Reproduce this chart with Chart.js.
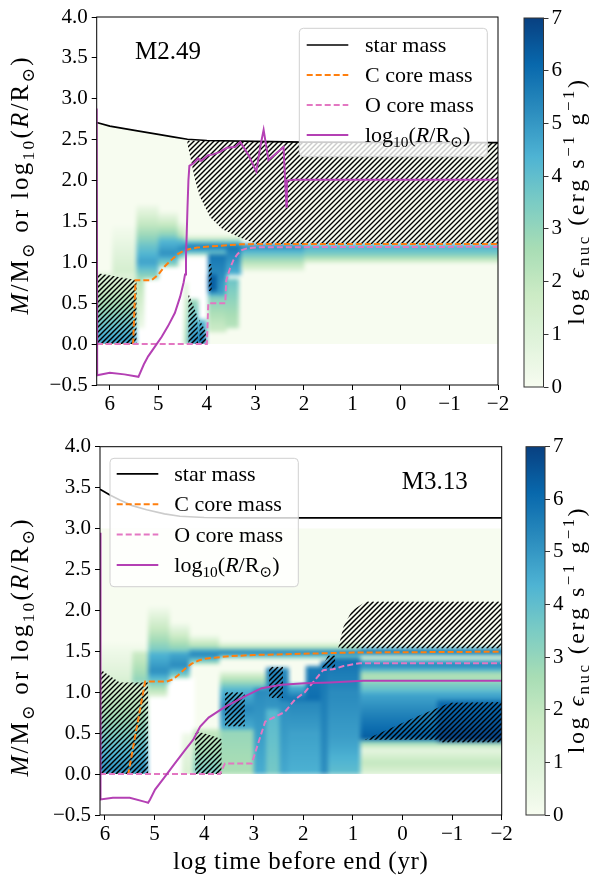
<!DOCTYPE html>
<html>
<head>
<meta charset="utf-8">
<script src="https://cdn.jsdelivr.net/npm/chart.js@4.4.1/dist/chart.umd.min.js"></script>
<style>
  body { margin: 0; background: #fff; width: 596px; height: 875px; position: relative; overflow: hidden; }
  canvas { position: absolute; }
</style>
</head>
<body>
<canvas id="mainA" width="520" height="420" style="left:0;top:0"></canvas>
<canvas id="barA" width="91" height="420" style="left:505px;top:0"></canvas>
<canvas id="mainB" width="520" height="445" style="left:0;top:430px"></canvas>
<canvas id="barB" width="91" height="445" style="left:505px;top:430px"></canvas>
<script>
// ---- ticks ----
const X_TICKS = [6, 5, 4, 3, 2, 1, 0, -1, -2];
const Y_TICKS = [-0.5, 0, 0.5, 1, 1.5, 2, 2.5, 3, 3.5, 4];
const CBAR_TICKS = [0, 1, 2, 3, 4, 5, 6, 7];

// ---- model M2.49 (top) : [log t, value] ----
const STAR_A = [[6.27, 2.71], [6.0, 2.665], [5.7, 2.635], [5.4, 2.605], [5.0, 2.565], [4.7, 2.535], [4.4, 2.505],
  [4.0, 2.49], [3.0, 2.478], [2.0, 2.47], [-2, 2.465]];
const C_CORE_A = [[6.27, 0], [5.52, 0], [5.47, 0.78], [5.14, 0.78], [5.0, 0.85], [4.87, 0.95], [4.73, 1.03],
  [4.6, 1.1], [4.45, 1.15], [4.2, 1.18], [3.8, 1.2], [3.3, 1.22], [3.0, 1.225], [-2, 1.225]];
const O_CORE_A = [[6.27, 0], [4.0, 0], [3.97, 0.5], [3.62, 0.5], [3.6, 0.78], [3.52, 0.93], [3.45, 1.03],
  [3.37, 1.1], [3.28, 1.15], [3.15, 1.175], [2.9, 1.185], [-2, 1.19]];
const LOGR_A = [[6.27, 2.88], [6.26, -0.38], [6.0, -0.35], [5.7, -0.37], [5.41, -0.40], [5.3, -0.25], [5.21, -0.15],
  [5.07, -0.03], [4.93, 0.09], [4.8, 0.22], [4.66, 0.38], [4.55, 0.58], [4.48, 0.75], [4.45, 0.85], [4.43, 1.1],
  [4.42, 1.25], [4.4, 1.65], [4.38, 2.0], [4.36, 2.18], [4.28, 2.21], [4.18, 2.27], [4.12, 2.24], [3.97, 2.31],
  [3.87, 2.32], [3.73, 2.35], [3.59, 2.40], [3.42, 2.41], [3.31, 2.47], [3.14, 2.31], [2.98, 2.11], [2.90, 2.41],
  [2.83, 2.62], [2.73, 2.25], [2.42, 2.41], [2.36, 1.68], [2.35, 2.0], [2.2, 2.01], [-2, 2.01]];
// eps_nuc cells: [t from, t to, m bottom, m top, log eps at bottom, log eps at top]  (null = no burning data)
const EPS_A = [
  [6.27, 5.45, 0.00, 0.45, 5.0, 2.8], [6.27, 5.45, 0.45, 0.87, 2.8, 0.8], [5.95, 5.45, 0.87, 1.45, 1.4, 0.1],
  [5.45, 4.47, 0.00, 0.78, null], [5.14, 4.47, 0.78, 0.95, null], [5.45, 5.30, 0.20, 0.80, 0.4, 2.4],
  [5.45, 5.00, 0.80, 1.00, 2.8, 4.8], [5.45, 5.00, 1.00, 1.20, 4.8, 3.8], [5.45, 5.00, 1.20, 1.70, 3.8, 0.3],
  [5.00, 4.60, 0.95, 1.10, 2.8, 5.2], [5.00, 4.60, 1.10, 1.30, 5.2, 4.0], [5.00, 4.60, 1.30, 1.62, 3.6, 0.2],
  [4.60, 4.45, 1.05, 1.15, 2.8, 5.4], [4.60, 4.45, 1.15, 1.30, 5.4, 3.6], [4.60, 4.45, 1.30, 1.50, 2.6, 0.1],
  [4.45, 3.30, 1.10, 1.19, 3.2, 5.8], [4.45, 3.30, 1.19, 1.27, 5.8, 3.2], [4.45, 3.30, 1.27, 1.34, 2.0, 0.1],
  [4.47, 3.98, 0.00, 1.05, null], [4.47, 4.40, 0.00, 0.75, 2.6, 0.8], [4.38, 4.18, 0.00, 0.55, 5.4, 2.8],
  [4.18, 4.02, 0.00, 0.30, 6.0, 4.0],
  [3.98, 3.60, 0.15, 0.60, 1.6, 3.4], [3.98, 3.60, 0.60, 1.10, 4.8, 5.8], [3.98, 3.80, 0.65, 0.85, 6.3, 6.3],
  [3.62, 3.35, 0.20, 0.80, 2.2, 3.8], [3.60, 3.30, 0.85, 1.20, 4.4, 5.8],
  [3.30, 2.00, 0.90, 1.10, 0.8, 3.8], [3.30, 2.00, 1.10, 1.225, 3.8, 5.6],
  [2.00, -2.0, 1.00, 1.10, 1.2, 3.5], [2.00, -2.0, 1.10, 1.225, 3.5, 4.6]
];
// convective zones (hatched)
const CONV_A = [
  [[6.27, 0], [5.45, 0], [5.45, 0.78], [6.27, 0.87]],
  [[4.4, 2.49], [3.0, 2.478], [2.0, 2.47], [-2, 2.465], [-2, 1.225], [2.96, 1.225], [3.31, 1.3], [3.67, 1.4],
    [3.93, 1.55], [4.14, 1.8], [4.24, 2.0], [4.4, 2.45]],
  [[4.38, 0], [4.18, 0], [4.2, 0.35], [4.38, 0.62]],
  [[4.15, 0], [4.02, 0], [4.02, 0.15], [4.15, 0.3]],
  [[3.96, 0.65], [3.9, 0.65], [3.9, 0.98], [3.96, 0.98]]
];

// ---- model M3.13 (bottom) ----
const STAR_B = [[6.1, 3.48], [5.9, 3.41], [5.7, 3.35], [5.45, 3.28], [5.16, 3.23], [4.8, 3.18], [4.49, 3.15],
  [4.0, 3.135], [3.48, 3.13], [-2, 3.13]];
const C_CORE_B = [[6.1, 0], [5.53, 0], [5.19, 1.13], [4.76, 1.13], [4.62, 1.16], [4.52, 1.21], [4.38, 1.29],
  [4.25, 1.35], [4.1, 1.39], [3.98, 1.41], [3.5, 1.44], [3.0, 1.455], [2.0, 1.47], [1.0, 1.485], [-2, 1.495]];
const O_CORE_B = [[6.1, 0], [3.68, 0], [3.58, 0.13], [3.04, 0.13], [2.77, 0.64], [2.37, 0.76], [2.17, 0.91],
  [1.97, 1.0], [1.6, 1.27], [1.4, 1.28], [1.19, 1.32], [0.86, 1.355], [-2, 1.355]];
const LOGR_B = [[6.1, 2.95], [6.09, -0.31], [5.84, -0.29], [5.5, -0.29], [5.19, -0.34], [5.13, -0.35], [5.09, -0.31],
  [4.99, -0.19], [4.79, -0.03], [4.59, 0.13], [4.39, 0.29], [4.22, 0.42], [4.08, 0.58], [3.91, 0.69], [3.58, 0.82],
  [3.18, 0.95], [2.84, 1.05], [2.44, 1.09], [1.97, 1.11], [1.46, 1.12], [0.79, 1.14], [-2, 1.14]];
const EPS_B = [
  [6.10, 5.13, 0.00, 0.50, 5.3, 3.4], [6.10, 5.13, 0.50, 1.20, 3.4, 1.0], [6.10, 5.13, 1.20, 1.60, 1.0, 0.1],
  [5.45, 5.13, 1.12, 1.50, 3.2, 1.6],
  [5.13, 4.75, 0.00, 0.95, null], [4.75, 4.20, 0.50, 1.18, null], [4.75, 4.45, 0.00, 0.50, null],
  [4.45, 4.20, 0.00, 0.50, 1.2, 0.3], [5.13, 4.75, 0.95, 1.12, 1.0, 3.5],
  [5.13, 4.70, 1.12, 1.25, 3.6, 5.2], [5.13, 4.70, 1.25, 1.50, 5.2, 4.2], [5.13, 4.70, 1.50, 2.05, 3.6, 0.1],
  [4.70, 4.30, 1.18, 1.32, 3.0, 5.3], [4.70, 4.30, 1.32, 1.50, 5.3, 4.5], [4.70, 4.30, 1.50, 1.85, 3.5, 0.1],
  [4.30, 3.70, 1.35, 1.45, 2.5, 5.5], [4.30, 3.70, 1.45, 1.53, 5.5, 4.5], [4.30, 3.70, 1.53, 1.70, 3.0, 0.1],
  [3.70, 0.85, 1.42, 1.49, 3.0, 5.8], [3.70, 0.85, 1.49, 1.53, 5.8, 4.0], [3.70, 0.85, 1.53, 1.62, 2.5, 0.1],
  [0.85, -2.0, 1.45, 1.50, 4.5, 6.0], [0.85, -2.0, 1.50, 1.55, 6.0, 3.5],
  [4.22, 3.68, 0.00, 0.55, 3.6, 1.8], [3.68, 3.00, 0.00, 0.55, 2.5, 3.0], [3.68, 3.00, 0.55, 0.80, 4.5, 5.3],
  [3.68, 3.00, 0.80, 1.05, 5.3, 4.2], [3.68, 2.75, 1.05, 1.25, 4.0, 0.8], [3.00, 2.75, 0.00, 1.05, 4.5, 5.3],
  [2.75, 2.48, 0.00, 0.80, 3.6, 4.2], [2.75, 2.48, 0.80, 1.30, 5.0, 5.6], [2.48, 2.30, 0.00, 0.90, 4.6, 5.2],
  [2.48, 2.30, 0.90, 1.30, 5.8, 5.2],
  [2.30, 1.65, 0.00, 0.50, 4.4, 4.8], [2.30, 1.65, 0.50, 0.90, 4.8, 5.4], [2.30, 1.95, 0.90, 1.10, 6.0, 4.0],
  [1.95, 1.65, 0.90, 1.32, 6.0, 5.6], [1.65, 1.50, 0.00, 1.38, 5.2, 5.8],
  [1.50, 0.85, 0.00, 0.40, 4.0, 4.8], [1.50, 0.85, 0.40, 1.00, 4.8, 5.3], [1.50, 0.85, 1.00, 1.42, 5.3, 5.9],
  [0.85, -2.0, 0.00, 0.14, 1.0, 2.0], [0.85, -2.0, 0.14, 0.30, 2.0, 0.6], [0.85, -2.0, 0.30, 0.42, 0.6, 4.0],
  [0.85, -2.0, 0.42, 0.70, 6.4, 5.6], [0.85, -2.0, 0.70, 1.00, 5.6, 4.6], [0.85, -2.0, 1.00, 1.15, 4.2, 3.0],
  [0.85, -2.0, 1.15, 1.25, 2.4, 2.6], [0.85, -2.0, 1.25, 1.32, 3.6, 5.4], [0.85, -2.0, 1.32, 1.40, 5.4, 4.6],
  [0.85, -2.0, 1.40, 1.45, 1.0, 1.5], [-0.70, -2.0, 0.40, 0.90, 7.0, 6.0]
];
const CONV_B = [
  [[6.1, 0], [5.13, 0], [5.13, 1.12], [5.7, 1.12], [6.1, 1.28]],
  [[4.18, 0], [3.65, 0], [3.65, 0.43], [4.0, 0.5], [4.18, 0.52]],
  [[3.58, 0.58], [3.18, 0.58], [3.18, 1.0], [3.58, 1.0]],
  [[2.69, 0.93], [2.41, 0.93], [2.41, 1.31], [2.69, 1.31]],
  [[1.63, 1.30], [1.36, 1.30], [1.36, 1.45], [1.5, 1.45]],
  [[1.30, 1.535], [-2, 1.535], [-2, 2.11], [0.73, 2.11], [1.02, 2.0], [1.19, 1.8]],
  [[0.76, 0.42], [-0.75, 0.42], [-0.75, 0.385], [-2, 0.385], [-2, 0.88], [-0.96, 0.87], [-0.28, 0.70]]
];

// ---- text ----
const SERIF = '"Liberation Serif", "DejaVu Serif", serif';
const Y_TITLE = [{ t: 'M', it: 1 }, { t: '/M' }, { t: '\u2299', sub: 1 }, { t: ' or log' }, { t: '10', sub: 1 },
  { t: '(' }, { t: 'R', it: 1 }, { t: '/R' }, { t: '\u2299', sub: 1 }, { t: ')' }];
const CBAR_TITLE = [{ t: 'log ' }, { t: '\u03f5', it: 1 }, { t: 'nuc', sub: 1 }, { t: ' (erg s' }, { t: '\u22121', sup: 1 },
  { t: ' g' }, { t: '\u22121', sup: 1 }, { t: ')' }];
const LEGEND_TEXT = [[{ t: 'star mass' }], [{ t: 'C core mass' }], [{ t: 'O core mass' }],
  [{ t: 'log' }, { t: '10', sub: 1 }, { t: '(' }, { t: 'R', it: 1 }, { t: '/R' }, { t: '\u2299', sub: 1 }, { t: ')' }]];

const GNBU = ['#f7fcf0', '#e0f3db', '#ccebc5', '#a8ddb5', '#7bccc4', '#4eb3d3', '#2b8cbe', '#0868ac', '#084081'];
const LINE_STYLE = [
  { color: '#000000', width: 1.7, dash: [] },
  { color: '#ff7f0e', width: 2, dash: [6, 3] },
  { color: '#e377c2', width: 2, dash: [6, 3] },
  { color: '#b440b4', width: 2, dash: [] }
];

function hex(h) { return [1, 3, 5].map(i => parseInt(h.substr(i, 2), 16)); }
function cmap(v) {
  const t = Math.max(0, Math.min(1, v / 7)) * (GNBU.length - 1);
  const i = Math.min(Math.floor(t), GNBU.length - 2), f = t - i;
  const a = hex(GNBU[i]), b = hex(GNBU[i + 1]);
  return 'rgb(' + a.map((c, k) => Math.round(c + (b[k] - c) * f)).join(',') + ')';
}
const fmtX = v => String(v).replace('-', '\u2212');
const fmtY = v => v.toFixed(1).replace('-', '\u2212');

function richLayout(ctx, segs, size, gap) {
  let w = 0; const out = [];
  segs.forEach(s => {
    const sz = (s.sub || s.sup) ? size * 0.7 : size;
    const font = (s.it ? 'italic ' : '') + sz + 'px ' + SERIF;
    const dy = s.sub ? size * 0.22 : s.sup ? -size * 0.4 : 0;
    ctx.font = font;
    for (const ch of s.t) { out.push({ ch, font, x: w, dy }); w += ctx.measureText(ch).width + gap; }
  });
  return { out, w: w - gap };
}
function drawRich(ctx, segs, x, y, size, gap, align) {
  const r = richLayout(ctx, segs, size, gap);
  const x0 = align === 'center' ? x - r.w / 2 : x;
  ctx.textAlign = 'left'; ctx.textBaseline = 'alphabetic'; ctx.fillStyle = '#000';
  r.out.forEach(g => { ctx.font = g.font; ctx.fillText(g.ch, x0 + g.x, y + g.dy); });
}

function clipArea(chart, ctx) {
  const a = chart.chartArea;
  ctx.beginPath(); ctx.rect(a.left, a.top, a.right - a.left, a.bottom - a.top); ctx.clip();
}
function pathPoly(chart, ctx, pts) {
  const { x, y } = chart.scales;
  ctx.beginPath();
  pts.forEach(([vx, vy], i) => {
    const px = x.getPixelForValue(vx), py = y.getPixelForValue(vy);
    i ? ctx.lineTo(px, py) : ctx.moveTo(px, py);
  });
  ctx.closePath();
}
// separable box blur, a couple of passes ~ gaussian smoothing of the pcolormesh look
function boxBlur(img, w, h, r, passes) {
  const d = img.data, tmp = new Float32Array(d.length);
  for (let p = 0; p < passes; p++) {
    for (let yy = 0; yy < h; yy++) for (let xx = 0; xx < w; xx++) for (let c = 0; c < 4; c++) {
      let s = 0, n = 0;
      for (let k = -r; k <= r; k++) { const q = xx + k; if (q >= 0 && q < w) { s += d[(yy * w + q) * 4 + c]; n++; } }
      tmp[(yy * w + xx) * 4 + c] = s / n;
    }
    for (let yy = 0; yy < h; yy++) for (let xx = 0; xx < w; xx++) for (let c = 0; c < 4; c++) {
      let s = 0, n = 0;
      for (let k = -r; k <= r; k++) { const q = yy + k; if (q >= 0 && q < h) { s += tmp[(q * w + xx) * 4 + c]; n++; } }
      d[(yy * w + xx) * 4 + c] = s / n;
    }
  }
}
// energy generation map: cells painted off-screen, then softened and clipped to the model's mass range
function drawEps(chart, domainTop, cells) {
  const { ctx, chartArea: a, scales: { x, y } } = chart;
  const off = document.createElement('canvas');
  off.width = chart.width; off.height = chart.height;
  const o = off.getContext('2d');
  const domain = [[domainTop[0][0], 0], ...domainTop, [domainTop[domainTop.length - 1][0], 0]];
  o.fillStyle = cmap(0);
  o.fillRect(0, 0, off.width, off.height);
  cells.forEach(([xa, xb, y0, y1, vb, vt]) => {
    const px0 = x.getPixelForValue(xa), px1 = x.getPixelForValue(xb);
    const py0 = y.getPixelForValue(y0), py1 = y.getPixelForValue(y1);
    if (vb === null) o.fillStyle = '#fff';
    else {
      const g = o.createLinearGradient(0, py0, 0, py1);
      for (let k = 0; k <= 4; k++) g.addColorStop(k / 4, cmap(vb + (vt - vb) * k / 4));
      o.fillStyle = g;
    }
    o.fillRect(Math.min(px0, px1), Math.min(py0, py1), Math.abs(px1 - px0) + 0.5, Math.abs(py1 - py0) + 0.5);
  });
  const L = Math.floor(a.left), T = Math.floor(a.top), W = Math.ceil(a.right - L), H = Math.ceil(a.bottom - T);
  const img = o.getImageData(L, T, W, H);
  boxBlur(img, W, H, 2, 2);
  o.putImageData(img, L, T);
  ctx.save();
  clipArea(chart, ctx);
  pathPoly(chart, ctx, domain); ctx.clip();
  ctx.drawImage(off, 0, 0);
  ctx.restore();
}
function drawHatch(chart, polys) {
  const ctx = chart.ctx, step = 5;
  ctx.save(); clipArea(chart, ctx);
  polys.forEach(p => {
    ctx.save();
    pathPoly(chart, ctx, p); ctx.clip();
    const xs = p.map(q => chart.scales.x.getPixelForValue(q[0])), ys = p.map(q => chart.scales.y.getPixelForValue(q[1]));
    const x0 = Math.min(...xs), x1 = Math.max(...xs), y0 = Math.min(...ys), y1 = Math.max(...ys);
    ctx.beginPath();
    for (let c = Math.floor((x0 + y0) / step) * step; c <= x1 + y1; c += step) {
      ctx.moveTo(c - y1, y1); ctx.lineTo(c - y0, y0);
    }
    ctx.strokeStyle = '#000'; ctx.lineWidth = 1.4; ctx.stroke();
    ctx.restore();
  });
  ctx.restore();
}
function drawLegend(chart, L) {
  const ctx = chart.ctx, a = chart.chartArea;
  const bx = a.left + L.dx, by = a.top + L.dy;
  ctx.save();
  ctx.beginPath(); ctx.roundRect(bx, by, L.w, L.h, 4);
  ctx.fillStyle = 'rgba(255,255,255,0.8)'; ctx.fill();
  ctx.strokeStyle = '#d0d0d0'; ctx.lineWidth = 1; ctx.stroke();
  LEGEND_TEXT.forEach((segs, i) => {
    const ry = by + L.row0 + i * L.rowGap, s = LINE_STYLE[i];
    ctx.beginPath(); ctx.moveTo(bx + L.s0, ry); ctx.lineTo(bx + L.s1, ry);
    ctx.strokeStyle = s.color; ctx.lineWidth = s.width; ctx.setLineDash(s.dash); ctx.stroke(); ctx.setLineDash([]);
    drawRich(ctx, segs, bx + L.tx, ry + 7, 22, 0, 'left');
  });
  ctx.restore();
}

function panel(id, o) {
  const kipp = {
    id: 'kipp',
    beforeDatasetsDraw(chart) {
      drawEps(chart, o.domain, o.cells);
      drawHatch(chart, o.conv);
    },
    afterDatasetsDraw(chart) {
      const ctx = chart.ctx, a = chart.chartArea;
      drawLegend(chart, o.legend);
      ctx.save();
      ctx.font = '25px ' + SERIF; ctx.fillStyle = '#000'; ctx.textAlign = 'left'; ctx.textBaseline = 'alphabetic';
      ctx.fillText(o.label, a.left + o.labelPos[0], a.top + o.labelPos[1]);
      ctx.strokeStyle = '#000'; ctx.lineWidth = 1;
      ctx.strokeRect(a.left, a.top, a.right - a.left, a.bottom - a.top);
      ctx.translate(28, o.yTitleY); ctx.rotate(-Math.PI / 2);
      drawRich(ctx, Y_TITLE, 0, 0, 25, 2.2, 'center');
      ctx.restore();
      if (o.xTitle) {
        ctx.save();
        ctx.font = '25px ' + SERIF; ctx.fillStyle = '#000'; ctx.textAlign = 'center'; ctx.textBaseline = 'alphabetic';
        if ('letterSpacing' in ctx) ctx.letterSpacing = '0.7px';
        ctx.fillText(o.xTitle, (a.left + a.right) / 2, a.bottom + 54);
        ctx.restore();
      }
    }
  };
  const series = [o.star, o.c, o.o, o.r];
  new Chart(document.getElementById(id), {
    type: 'scatter',
    data: {
      datasets: series.map((s, i) => ({
        data: s.map(([x, y]) => ({ x, y })),
        showLine: true, pointRadius: 0, fill: false, tension: 0,
        borderColor: LINE_STYLE[i].color, borderWidth: LINE_STYLE[i].width, borderDash: LINE_STYLE[i].dash,
        order: 4 - i
      }))
    },
    options: {
      animation: false, responsive: false, devicePixelRatio: 1,
      layout: { padding: { top: o.padTop, right: o.padRight, left: 0, bottom: 0 } },
      plugins: { legend: { display: false }, tooltip: { enabled: false } },
      scales: {
        x: {
          type: 'linear', reverse: true, min: -2, max: o.xMax,
          afterBuildTicks: s => { s.ticks = X_TICKS.map(v => ({ value: v })); },
          afterFit: s => { s.height = o.xAxisH; s.paddingLeft = 0; s.paddingRight = 0; },
          grid: { display: true, drawOnChartArea: false, drawTicks: true, tickLength: 5, color: '#000' },
          border: { display: false },
          ticks: { callback: v => fmtX(v), color: '#000', font: { family: SERIF, size: 21 }, padding: 2, maxRotation: 0, autoSkip: false }
        },
        y: {
          type: 'linear', min: -0.5, max: 4.0,
          afterBuildTicks: s => { s.ticks = Y_TICKS.map(v => ({ value: v })); },
          afterFit: s => { s.width = o.yAxisW; s.paddingTop = 0; s.paddingBottom = 0; },
          grid: { display: true, drawOnChartArea: false, drawTicks: true, tickLength: 5, color: '#000' },
          border: { display: false },
          ticks: { callback: v => fmtY(v), color: '#000', font: { family: SERIF, size: 21 }, padding: 4, autoSkip: false }
        }
      }
    },
    plugins: [kipp]
  });
}

function colorbar(id, o) {
  const bar = {
    id: 'bar',
    beforeDatasetsDraw(chart) {
      const { ctx, chartArea: a, scales: { y } } = chart;
      const p0 = y.getPixelForValue(0), p1 = y.getPixelForValue(7);
      const g = ctx.createLinearGradient(0, p0, 0, p1);
      for (let k = 0; k <= 56; k++) g.addColorStop(k / 56, cmap(7 * k / 56));
      ctx.save();
      ctx.fillStyle = g; ctx.fillRect(a.left, p1, a.right - a.left, p0 - p1);
      ctx.strokeStyle = '#333'; ctx.lineWidth = 1; ctx.strokeRect(a.left, p1, a.right - a.left, p0 - p1);
      ctx.translate(o.titleX, (a.top + a.bottom) / 2); ctx.rotate(-Math.PI / 2);
      drawRich(ctx, CBAR_TITLE, 0, 0, 24, 2.5, 'center');
      ctx.restore();
    }
  };
  new Chart(document.getElementById(id), {
    type: 'scatter',
    data: { datasets: [] },
    options: {
      animation: false, responsive: false, devicePixelRatio: 1,
      layout: { padding: { top: o.padTop, bottom: o.padBottom, left: o.padLeft, right: 0 } },
      plugins: { legend: { display: false }, tooltip: { enabled: false } },
      scales: {
        x: { display: false, min: 0, max: 1 },
        y: {
          position: 'right', min: 0, max: 7,
          afterBuildTicks: s => { s.ticks = CBAR_TICKS.map(v => ({ value: v })); },
          afterFit: s => { s.width = o.axisW; s.paddingTop = 0; s.paddingBottom = 0; },
          grid: { display: true, drawOnChartArea: false, drawTicks: true, tickLength: 5, color: '#333' },
          border: { display: false },
          ticks: { color: '#000', font: { family: SERIF, size: 21 }, padding: 3 }
        }
      }
    },
    plugins: [bar]
  });
}

panel('mainA', {
  star: STAR_A, c: C_CORE_A, o: O_CORE_A, r: LOGR_A, cells: EPS_A, conv: CONV_A, domain: STAR_A,
  xMax: 6.27, padTop: 17, padRight: 22, yAxisW: 96.7, xAxisH: 35,
  label: 'M2.49', labelPos: [38.3, 42], yTitleY: 186,
  legend: { dx: 202.6, dy: 11.3, w: 188, h: 128.4, s0: 7.4, s1: 49, tx: 65.7, row0: 16.7, rowGap: 30 }
});
colorbar('barA', { padTop: 18, padBottom: 33, padLeft: 19, axisW: 52.5, titleX: 79 });

panel('mainB', {
  star: STAR_B, c: C_CORE_B, o: O_CORE_B, r: LOGR_B, cells: EPS_B, conv: CONV_B, domain: [[6.1, 3.0], [-2, 3.0]],
  xMax: 6.1, padTop: 16.7, padRight: 18.3, yAxisW: 100, xAxisH: 60,
  label: 'M3.13', labelPos: [301.7, 42.6], yTitleY: 218, xTitle: 'log time before end (yr)',
  legend: { dx: 10, dy: 11.6, w: 188.3, h: 128.4, s0: 6.7, s1: 48.3, tx: 64.3, row0: 15.5, rowGap: 30.4 }
});
colorbar('barB', { padTop: 16.7, padBottom: 60, padLeft: 21, axisW: 51, titleX: 79 });
</script>
</body>
</html>
